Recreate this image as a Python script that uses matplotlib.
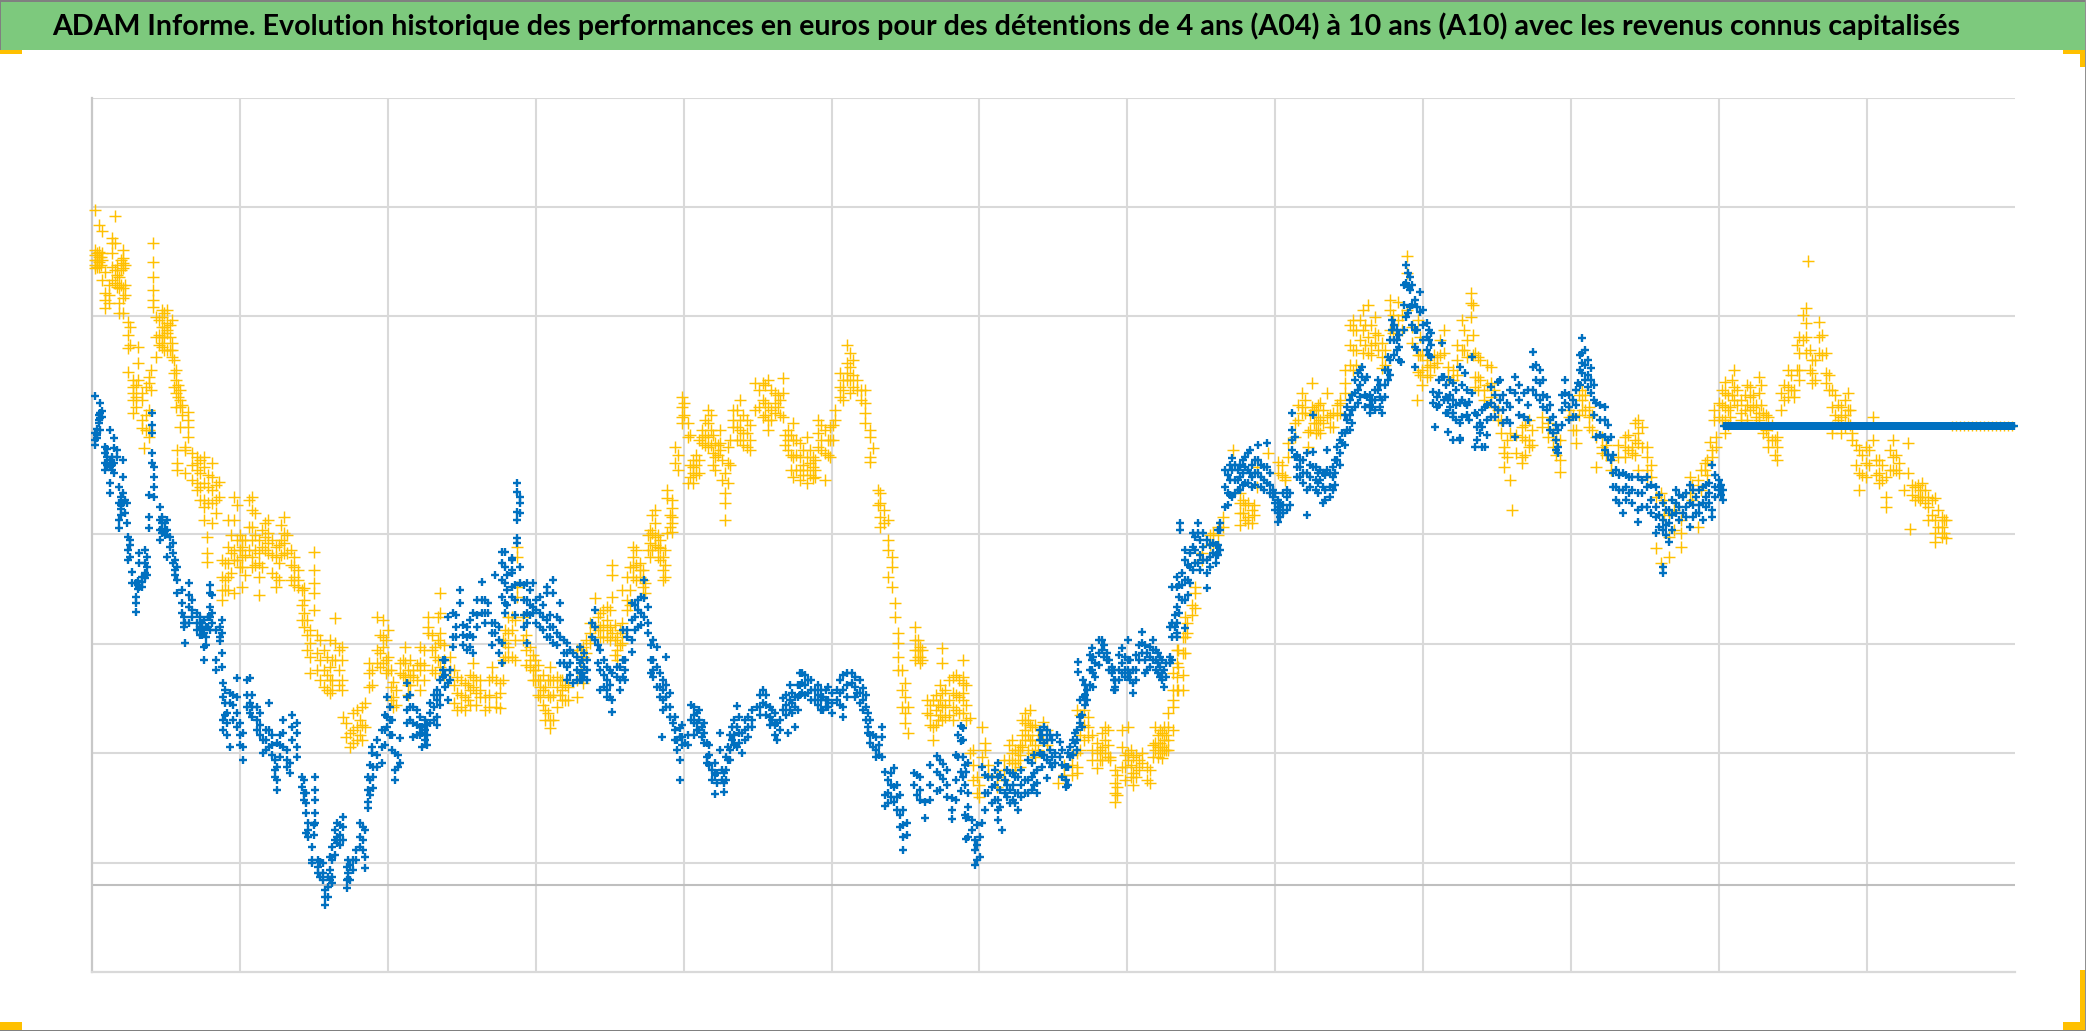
import matplotlib
matplotlib.use("Agg")
import matplotlib.pyplot as plt
from matplotlib.patches import Rectangle

TITLE = "ADAM Informe. Evolution historique des performances en euros pour des détentions de 4 ans (A04) à 10 ans (A10) avec les revenus connus capitalisés"

# Each entry: (position along the time axis, [values read at that position])
a04_part1 = [
(3,[675,635,630,625,620,617]),(7,[660,633,628,623,618]),(10,[654,632,625,605]),(13,[613,592,585,577]),
(20,[647,642,632,618,605]),(23,[669,642,615,602]),(27,[608,597,582,572]),(31,[635,627,622,617,597,587,572]),
(36,[563,550,537,513]),(41,[505,498,492,485,472]),(46,[538,522,505]),(50,[492,485,465,457]),(52,[437]),
(57,[508,502,475,455,448]),(61,[642,623,608,595,585,578]),(64,[568,548,528]),(70,[575,568,558,548,542,538]),
(75,[575,562,555,552,535]),(80,[565,542,535,528]),(84,[515,505,492,478]),(85,[435,422,415]),(88,[495,485,478,458]),
(93,[438,435,412]),(96,[473,465,458,448]),(105,[428,422,415,402,395]),(112,[428,418,402,385,378,365]),
(115,[348,332,323]),(120,[422,408,395,382,362]),(127,[403,388]),(130,[325,308,295,285]),(136,[365,338,322,308,295]),
(142,[388,365,335,325,292]),(150,[345,338,328,318,298]),(160,[388,375,358,345,328,318]),(167,[345,332,322,308,290]),
(176,[365,352,342,332]),(184,[338,328,308,298]),(192,[368,352,342,332]),(202,[328,318,308,300]),
(212,[297,285,272,258]),(218,[255,242,228,212]),(222,[333,315,302,292,275]),(228,[245,225,205]),
(238,[245,218,205,192]),(243,[267,242,225]),(250,[238,225,205,195]),
]
a04_part2 = [
(251,[168]),(258,[152,138]),(265,[175,158,145]),(273,[182,158]),(277,[222,212,198]),(285,[268,235,222]),
(291,[265,248,238,222]),(296,[255,228,215]),(301,[203,188,178]),(308,[222,212]),(313,[238,222,208]),(321,[215,208]),
(328,[238,222,215,195]),(336,[268,258,252]),(343,[238,228,212]),(348,[292,272,252,242,218]),(358,[228,215]),
(365,[208,192,175]),(373,[202,188,175]),(381,[222,208,198]),(388,[205,195,188]),(393,[188,175]),(400,[218,208]),
(408,[202,192,177]),(413,[255,242,228]),(416,[268,252,238,228]),(420,[268,255,228]),(425,[338,328,298,288]),
(431,[268,245]),(438,[238,225,218]),(443,[225,215,205]),(448,[205,198,188]),(453,[198,175,165]),
(458,[218,205,188,165,157]),(465,[208,198,178]),(470,[205,195,185]),(476,[198,185]),(485,[235,188,205]),
(491,[238,228,202]),(498,[262,252,242]),(503,[287,258]),(508,[272,258,248]),(515,[278,265,255,248]),
(520,[320,310,288,252]),(525,[248,235,225]),(530,[295,262,252,242]),(535,[308,285,275]),(541,[338,328,318,308]),
(548,[322,315,308]),(553,[302,292]),(558,[355,342,328]),(563,[375,362,348,340]),(568,[345,337,325]),
(571,[328,315,305]),(575,[395,387,352]),(580,[385,377,368,362,353]),
]
a04_part3 = [
(583,[438,422]),(590,[488,478,468,462]),(596,[462,448,402]),(601,[425,418,412,402]),(610,[455,448,442]),
(616,[475,462,448,438]),(623,[442,428,415]),(628,[455,442,435]),(633,[412,392,382,365]),(636,[438,422,402]),
(641,[475,465,458]),(648,[485,465,455,445]),(655,[465,452,438]),(663,[502,475]),(671,[502,485,468]),
(676,[505,478,465,455]),(683,[492,482,472]),(691,[507,492,468]),(696,[455,445,435]),(701,[462,445,428,408]),
(708,[442,428,415,405]),(715,[448,428,415,402]),(721,[428,418,407]),(726,[465,452,438]),(733,[455,432,405]),
(738,[458,445,428]),(743,[475,465]),(748,[512,498,488]),(755,[540,522,512,505]),(758,[532,518,505,492]),
(765,[505,495]),(773,[495,482,472,462]),(778,[455,448,428,423]),(781,[437]),(788,[392,382,368,358]),
(796,[365,345,335,308]),(800,[328,318,298]),(803,[282,268]),(806,[252,242,228,215]),(813,[202,188,172,162]),
(816,[178,152]),(823,[258,245,235,225]),(828,[238,228,222]),(835,[185,172]),(841,[185,158,145]),
(850,[237,222,192,178,165]),(861,[208,192,178,165]),(871,[225,208,192,185,202,172]),
(878,[167,132]),(885,[108,92]),(890,[158,128]),(893,[142,135]),(905,[108,98]),(920,[145,132,122]),(926,[135,125]),
(933,[172,162,155,145]),(940,[158,145,132]),(951,[163,145]),(966,[102]),(985,[175,132,118,112]),(996,[168,158,148]),
(1005,[142,132,117]),(1013,[158,145,132]),(1018,[128,125]),(1023,[115,102,92,83]),(1030,[155,138,118]),
(1036,[158,132,125]),(1041,[128,112,100]),(1050,[132,122]),(1055,[118,105]),(1063,[158,142,135]),(1070,[152,138,127]),
(1076,[172,158,145,135]),(1081,[195,178,185,212,155]),
]
a04_part4 = [
(1085,[235,222,208,195]),(1086,[235,218,195]),(1091,[248,232,210,195]),(1093,[268,248,232]),(1095,[262,252]),
(1103,[298,292,277]),(1110,[332,325]),(1121,[352,342]),(1131,[368,358]),(1141,[435]),(1148,[392,382,372,360]),
(1156,[382,368,362]),(1165,[418,398]),(1176,[432]),(1186,[423,412]),(1193,[408,405]),(1196,[442,428]),(1203,[462,448]),
(1210,[492,478,472]),(1216,[453,438]),(1220,[502,478]),(1228,[482,465,452]),(1235,[492,468]),(1241,[472,458]),
(1248,[485,482,472]),(1253,[515,502,492]),(1261,[565,555,535,515]),(1271,[575,555,532]),(1276,[580,548,532]),
(1283,[568,552,542]),(1290,[542,528,517]),(1298,[585,575,555]),(1306,[583,565]),(1315,[629,612,575]),(1320,[558,542]),
(1325,[485]),(1326,[565,530,513]),(1335,[525,518,508]),(1345,[528,522]),(1352,[555,532]),(1356,[518,508]),(1361,[515,505]),
(1370,[565,535]),(1375,[545,528]),(1379,[592,582,568]),(1383,[532,508,498]),(1386,[528,508,495]),(1392,[495,485]),
(1399,[518,502,488]),(1406,[475,465]),(1412,[438,432,418]),(1418,[452,405]),(1420,[375]),(1430,[458,448,428,422]),
(1437,[465,445,438]),(1450,[468,458]),(1461,[452,438]),(1468,[445,425,413]),(1477,[475,468]),(1484,[455,442]),
(1490,[495,485,475]),(1497,[478,468,458]),(1504,[448,418]),(1510,[448,438,432]),(1519,[425,415]),(1533,[448,438,428]),
(1540,[438,432]),(1546,[465,452,442,415]),(1555,[438,428,415,408]),(1564,[388,337]),(1569,[392,322]),(1577,[372,348,328]),
(1589,[365,352,338]),(1598,[408,392]),(1606,[405,358]),(1613,[422,415]),(1618,[443]),(1620,[435,428]),(1624,[448,438]),
]
a04_part5 = [
(1622,[475,465]),(1627,[482,468]),(1633,[503,492,478,465,452]),(1638,[478,468]),(1642,[515,498,485]),(1649,[485,472,465]),
(1658,[498,488,475]),(1667,[508,492,472,465]),(1671,[472,452]),(1676,[468,448,438]),(1685,[448,438,425]),(1689,[492,475]),
(1696,[515,498,488]),(1702,[495,488]),(1707,[548,532,515,505]),(1714,[577,562,548,532]),(1716,[624]),(1720,[525,512,502]),
(1727,[563,548,532]),(1734,[532,512,502]),(1740,[495,478,458,452]),(1749,[478,468,452]),(1756,[492,475,462]),(1760,[452,445]),
(1767,[435,412,395]),(1774,[438,422,408]),(1781,[468,445]),(1787,[425,412,402]),(1794,[408,388,378]),(1801,[445,428,415]),
(1807,[422,412]),(1812,[395]),(1816,[442,412]),(1818,[356]),(1823,[398,385]),(1830,[402,388]),(1836,[388,378,365]),
(1843,[387,365,352,343]),(1850,[368,358,348]),(1854,[365,347]),
]
a04_part6 = [
(5,[632,625,618]),(9,[628,620]),(17,[600,590,582]),(25,[620,610,598]),(29,[625,615,600]),(33,[620,600,590]),(38,[558,540]),
(44,[500,488,478]),(54,[498,470,455]),(59,[515,495]),(67,[565,550,540]),(72,[572,558,548,535]),(78,[560,548,535]),
(82,[525,512,498]),(86,[500,488]),(90,[480,470]),(100,[432,420,405]),(108,[425,412,398,385]),(116,[410,398,382]),
(124,[400,385,372]),(133,[322,305,295]),(139,[350,332,312]),(145,[380,345,325]),(148,[350,335,318]),(153,[345,330,310]),
(157,[385,358,335]),(163,[372,350,335,320]),(170,[355,338,318]),(173,[362,348,335]),(180,[345,330,312]),(187,[340,322,305]),
(189,[360,345,330]),(195,[350,332]),(199,[335,320,305]),(206,[315,305,298]),(210,[295,280,265]),(215,[265,250,235]),
(225,[250,232,215]),(232,[235,215,198]),(235,[228,210,195]),(240,[225,205,195]),(247,[235,215,200]),
(254,[162,148]),(261,[172,155,142]),(268,[165,150]),(270,[178,160,145]),(280,[215,200]),(288,[250,232,218]),(294,[245,225,212]),
(299,[215,198,185]),(304,[195,180]),(311,[225,210]),(316,[215,200,190]),(318,[225,210,200]),(325,[220,205]),(332,[235,220,205]),
(340,[250,235,215]),(346,[268,245,225]),(352,[240,225,210]),(362,[215,200,182]),(369,[205,190,178]),(376,[200,185]),
(378,[210,195,180]),(384,[205,192,180]),(397,[205,190,178]),(404,[205,188,178]),(411,[245,225,205]),(423,[265,245,225]),
(434,[250,235,220]),(441,[230,215,205]),(446,[220,205,190]),(451,[210,195,180]),(456,[205,190,172]),(461,[205,190,165]),
(468,[205,190]),(473,[200,185]),(489,[235,215]),(494,[245,232]),(506,[268,255]),(511,[275,260,248]),(518,[275,258,245]),
(523,[260,245,230]),(528,[255,240]),(538,[318,295,280]),(544,[335,320,305]),(551,[315,305,298]),(556,[350,335]),
(560,[370,352,335]),(566,[350,338,328]),(573,[335,320,308]),(578,[370,358]),
]
a04_part7 = [
(586,[430,415]),(592,[482,470]),(598,[450,420,408]),(604,[430,420,410]),(607,[445,425,412]),(613,[465,450,440]),(619,[470,455,440]),
(621,[450,432,420]),(626,[440,430]),(630,[425,405]),(638,[445,420]),(645,[475,458,445]),(651,[470,452,440]),(658,[460,445,435]),
(667,[495,478]),(673,[500,482,470]),(679,[495,475,465]),(686,[490,478]),(688,[485,470]),(693,[450,440]),(699,[450,430,415]),
(704,[445,430,415]),(711,[435,420,410]),(718,[435,422,410]),(723,[425,415,408]),(729,[460,445,435]),(736,[445,430]),(741,[460,445]),
(751,[505,495,485]),(761,[525,510,498]),(769,[495,485]),(786,[395,380]),(792,[375,362]),(810,[215,195,178]),(826,[245,235,228]),
(830,[235,225]),(838,[180,170,160]),(844,[190,175,160]),(846,[180,165]),(848,[200,185,170]),(853,[195,180,168]),(857,[205,185,170]),
(864,[210,190,175]),(867,[205,188,172]),(874,[200,180,165]),(881,[135,120,105]),(887,[100,88]),(896,[120,110]),(912,[125,115,105]),
(917,[140,125]),(923,[135,122,115]),(928,[140,130,118]),(930,[165,150,138]),(936,[165,150,135]),(938,[175,160,145]),(943,[160,140,128]),
(946,[150,135]),(955,[155,140]),(972,[120,110]),(980,[130,120,110]),(988,[170,150,135]),(992,[175,160,145]),(1000,[150,135,125]),
(1008,[135,125]),(1010,[152,138,125]),(1016,[155,140,128]),(1025,[110,98,90]),(1033,[130,118,105]),(1039,[135,120,108]),
(1044,[130,118,108]),(1047,[125,115]),(1058,[115,102]),(1061,[140,128]),(1066,[150,138,128]),(1068,[155,142,132]),(1072,[158,145,135]),
(1074,[150,135]),
]
a04_part8 = [
(1100,[280,270]),(1118,[350,340]),(1126,[358,350]),(1151,[385,372]),(1153,[380,365]),(1160,[375,362]),(1162,[380,370]),(1190,[420,410]),
(1206,[480,465]),(1213,[485,472]),(1218,[470,455]),(1222,[475,462]),(1224,[475,462,452]),(1226,[480,468,455]),(1231,[475,462]),
(1238,[470,458]),(1245,[480,470]),(1258,[560,540,520]),(1264,[555,535,520]),(1268,[565,545]),(1273,[560,540]),(1279,[560,540,530]),
(1286,[550,535]),(1293,[535,520]),(1301,[570,552]),(1310,[570,555]),(1328,[548,530,510]),(1330,[530,515,500]),(1338,[520,510]),
(1342,[530,518]),(1348,[545,530]),(1365,[540,525,510]),(1372,[555,535]),(1381,[580,550,530]),(1388,[525,505]),(1395,[520,500]),
(1402,[495,478]),(1409,[465,452]),(1415,[445,428]),(1424,[450,432]),(1433,[460,445,430]),(1440,[455,440]),(1456,[462,448]),
(1464,[445,430]),(1481,[470,455]),(1487,[490,470]),(1493,[490,475]),(1500,[470,455]),(1514,[440,430]),(1526,[440,428]),(1536,[450,435]),
(1543,[462,445,430]),(1550,[458,438]),(1559,[420,408]),(1572,[385,370]),(1582,[375,355]),(1600,[400,385]),(1609,[415,395]),(1615,[425,410]),
(1630,[495,480,465]),(1636,[490,475,460]),(1640,[505,490]),(1645,[495,480]),(1653,[490,475]),(1655,[500,480,465]),(1661,[490,478]),
(1664,[480,468]),(1669,[500,480]),(1674,[470,455]),(1680,[460,445]),(1683,[445,430]),(1692,[500,485]),(1699,[510,495]),(1705,[540,515]),
(1711,[570,545]),(1718,[535,515]),(1723,[525,505]),(1730,[550,530]),(1737,[510,495]),(1743,[490,470]),(1746,[480,465]),(1753,[485,470,458]),
(1758,[475,460]),(1764,[440,420]),(1770,[430,410]),(1777,[435,420]),(1784,[425,410]),(1790,[420,405]),(1798,[435,415]),(1804,[430,415]),
(1820,[400,390]),(1826,[400,388]),(1828,[395,385]),(1833,[395,382]),(1840,[385,370]),(1846,[375,358]),(1852,[365,352]),
]
a10_part1 = [
(3,[489,452,445,440]),(8,[482,472,467,455]),(13,[438,432,422,415]),(18,[455,425,418,402,392]),(22,[447,437,422,412]),
(27,[398,382,365,357]),(31,[425,408,392,382]),(35,[382,362]),(36,[348,335,325]),(40,[313,302]),(44,[302,288,282,273]),
(47,[332,322,298]),(53,[335,322,312,307]),(57,[390,368,357]),(60,[472,460,452,432,422]),(62,[418,408,398,388]),
(68,[378,365,355,345]),(75,[365,355,328]),(81,[342,332,322]),(85,[318,305,292]),(90,[295,282,272]),(93,[262,242]),
(97,[302,290,278,262]),(105,[272,262,255]),(112,[265,252,238,225]),(118,[300,292,278,268,255]),(124,[255,225,215]),
(130,[265,252,232,218]),(131,[202,188,165,155]),(138,[192,182,138]),(145,[207,188,172,158]),(151,[152,138,125]),
(158,[207,182,172]),(165,[178,165,155]),(171,[145,132]),(177,[182,155,138]),(185,[142,118,105,95]),(191,[165,152,138]),
(198,[122,112]),(205,[162,152,138,128]),(210,[108,98]),(214,[92,82,72,52]),(220,[38,25,22]),(223,[108,95,85,72,62]),
(228,[23,8]),(233,[-5,-12,-20]),(240,[38,25,8,2]),(245,[62,48,42]),(251,[68,58,45]),(255,[18,5,-3]),(261,[25,15]),
(268,[62,48,38]),(273,[55,28,17]),(276,[108,95,83,77]),(280,[138,132]),(281,[118,108,97]),
]
a10_part2 = [
(290,[155,138,122]),(295,[188,168,158]),(303,[132,115,105]),(308,[147,122]),(315,[202,188,175,162]),(321,[178,162,148]),
(330,[158,152,138]),(338,[182,172,162]),(345,[195,185,168,160]),(351,[225,215,208]),(356,[268,202,185]),(361,[272,248,238]),
(368,[295,282]),(375,[258,248,235]),(381,[272,248,232]),(390,[303,285,272]),(396,[282,272]),(403,[310,262,252]),
(410,[333,322,305,288,242,222]),(413,[333,318,302,282,272]),(420,[325,315,298,288,327,312]),(425,[402,393,373,365,347,342]),
(428,[388,382,372,318,302]),(435,[302,285,272,262,242]),(441,[302,278,272]),(448,[288,272,258]),(455,[298,292,265,248]),
(461,[305,292,258,242]),(468,[282,265,248,222]),(475,[242,232,218,205]),(481,[232,202]),(488,[238,222,212,205]),
(495,[225,215,205]),(503,[275,258,245]),(508,[235,215,195]),(515,[218,205,195,188]),(520,[212,185,173]),(525,[218,208]),
(531,[255,225,208]),(535,[255,248]),(540,[282,265,245,233]),(546,[285,275,258]),(552,[305,287,268]),(556,[278,262,252]),
(561,[245,225,215,208]),(565,[238,218,198]),(570,[148]),(571,[205,195,185,175]),(574,[228]),(578,[192,178,168]),(581,[162]),
(585,[145,135]),(588,[157,148,125,105]),(593,[142]),(599,[180,165]),(605,[172,162,155]),(610,[158,148]),(615,[142,128,122]),
(620,[115,105]),(623,[122,110,91]),(628,[152,135]),(632,[112,102,93]),(636,[138,125]),(640,[158,145]),(645,[179,158,138]),
(650,[152,132]),(656,[168,158,148]),(665,[178]),(671,[195,182]),(680,[175,165]),(685,[162,145]),(691,[187,175]),
(696,[152]),(698,[200,185,175]),(703,[188,178,158]),(710,[212,202,192]),(716,[205,192]),(723,[195,185]),(731,[188,175]),
(736,[198,185,178]),(745,[195,185]),(751,[210,195,178,168]),(760,[212,202]),(765,[192]),(771,[197,185,175]),(776,[172,158,152]),
(781,[150,138]),(790,[158,148,128]),
]
a10_part3 = [
(793,[113,90,79]),(802,[117,98,83]),(811,[75,60,48,35]),(825,[110,90]),(833,[83,67]),(845,[129,113,94]),(851,[121,106]),
(860,[87,75,66]),(869,[159,144,113,94]),(871,[157,145,128,108]),(874,[113,67,46]),(876,[122,92,78,68,48]),(880,[65,55]),
(883,[45,35,20]),(888,[48,28]),(890,[118,62]),(893,[110,92,75]),(900,[108,98,82]),(906,[122,108,85,75,65]),(910,[55]),
(913,[105,92]),(918,[112,95,82]),(926,[108,92,75]),(933,[105,92]),(940,[122,108,95]),(945,[115,102,92]),(948,[155,145,132]),
(955,[155,145,125,107]),(963,[132,122]),(965,[150]),(968,[143,128]),(974,[118,105,98]),(978,[138,128]),(983,[152,142]),
(986,[223,213]),(988,[168,162,185]),(991,[205,188]),(995,[195,185]),(1000,[237,225,215]),(1003,[222,208]),(1010,[245,235]),
(1015,[232,225]),(1020,[218,212]),(1023,[205,198,195]),(1030,[237,222,212]),(1036,[245,225,215,208]),(1041,[215,202,192]),
(1050,[253,242,232]),(1055,[232,215]),(1061,[245,235,225]),(1068,[228,218,208]),(1072,[215,198]),(1078,[258,228,222]),
(1080,[298,262,248,225]),(1085,[262,252,248,308,298,278]),(1088,[362,355]),(1093,[335,325,305,285,257]),(1101,[352,338,315]),
(1106,[362,352,322]),(1115,[345,325,312,297]),(1121,[342,332]),(1128,[362,355,335]),(1133,[415,398,378]),(1140,[427,415,388]),
(1146,[415,405,395]),(1153,[428,418,402]),(1158,[435,412]),(1166,[440,425,412]),(1175,[442,418,402]),(1181,[395,388]),
(1186,[385,378,372,363]),(1195,[395,388,375]),(1200,[472,455,445,435]),(1203,[448,428]),(1208,[425,418,408]),(1215,[432,412,395,370]),
(1221,[470,433,418]),(1228,[415,405]),(1231,[412,398,382]),(1235,[435,415]),(1241,[418,408,395]),(1245,[438,425]),(1250,[452,442]),
]
a10_part4 = [
(1255,[478,465,455]),(1263,[505,492,478]),(1270,[518,508]),(1275,[508,488]),(1280,[485,478]),(1286,[505,495]),(1290,[485,472]),
(1296,[528,515,505]),(1300,[565,555]),(1305,[555,545,535]),(1309,[523]),(1314,[620,602,568]),(1318,[608,595,578]),
(1323,[585,555,538,518]),(1328,[593,573]),(1335,[562,548,535]),(1341,[493,482]),(1343,[458]),(1345,[488,478]),(1350,[542,508]),
(1352,[508,485]),(1356,[485,453,472]),(1361,[502,472,445,485,468]),(1368,[518,482,445,447,462]),(1373,[512,482]),(1377,[483,465]),
(1380,[528,492]),(1383,[472,438]),(1388,[462,452]),(1390,[475,458,438]),(1393,[478,438]),(1399,[482,468,498]),(1406,[503,475]),
(1408,[505,485]),(1415,[482,465]),(1423,[508,492,448]),(1432,[492,468]),(1441,[533,518,495]),(1448,[515,502,485]),(1455,[488,475]),
(1461,[468,452]),(1466,[455,438,432]),(1473,[505,492,482]),(1481,[485,468]),(1486,[502]),(1490,[547,532,522,512]),(1499,[517,505,492]),
(1504,[482,448]),(1513,[478,465,448,435]),(1519,[448,425]),(1524,[415,398,385]),(1531,[412,395,372]),(1537,[408,392]),
(1546,[408,392,375,363]),(1555,[408,398,378]),(1564,[398,378,368,352]),(1571,[382,365,355,318,312]),(1577,[375,362,343]),
(1584,[395,382,372]),(1591,[388,372]),(1598,[400,382,358]),(1604,[388,372]),(1611,[398,382,365]),(1620,[420,375,368]),
(1627,[405,395]),(1631,[395,385]),
]
a10_part5 = [
(5,[456,450,447]),(7,[470,465,462]),(10,[474,468]),(15,[436,428,420]),(20,[428,420,415]),(25,[435,428]),(29,[388,380,376,370]),
(33,[385,372]),(38,[345,340,328]),(46,[304,296,300]),(50,[308,303,298]),(55,[328,318,310]),(70,[368,362,356,352]),(73,[362,354,350]),
(78,[348,338]),(83,[325,315,310]),(92,[268,262,258]),(100,[285,275,268]),(108,[268,262,258,250]),(110,[262,256,250]),(114,[258,248,240]),
(116,[268,258]),(120,[290,272,262]),(128,[258,248,244]),(133,[195,182,170]),(135,[172,162,150]),(141,[190,180,165]),(148,[162,150,140]),
(155,[205,190,178]),(160,[190,178,168]),(168,[172,160,150]),(174,[155,145,135]),(180,[150,140,130]),(183,[125,115,108]),(188,[150,140,128]),
(195,[135,125,118]),(200,[170,158,145]),(212,[105,92,85]),(216,[62,55,48]),(222,[60,50]),(226,[25,18,12]),(231,[22,12,5]),(236,[8,-2,-12]),
(238,[28,15,5]),(243,[55,45,30]),(248,[60,50,40]),(256,[25,12,6]),(258,[20,5]),(264,[35,25]),(271,[58,45,35]),(278,[120,105,90]),
(285,[145,130,118]),(293,[170,155,140]),(298,[178,165,150]),(300,[165,150,135]),(306,[130,118]),(318,[190,178,165]),(325,[175,160,150]),
(328,[168,158,150]),(333,[165,155,145]),(335,[160,150,140]),(342,[190,178,165]),(348,[205,190,180]),(353,[225,210,198]),(358,[215,205]),
(364,[270,258,248]),(371,[260,250,240]),(378,[265,250,238]),(385,[285,270,258]),(393,[285,272,262]),(400,[262,252,240]),(407,[258,245,232]),
(415,[310,295,280]),(423,[300,285,270]),(432,[300,285,270,258]),(438,[295,280,270]),(444,[285,275,262]),(451,[280,268,255]),(458,[270,258,248]),
(465,[268,252,240]),(472,[245,232,222]),(478,[235,222,210]),(485,[228,215,205]),(490,[225,212,205]),(492,[232,218,208]),(500,[262,248]),
(506,[240,222]),(512,[225,210,198]),(518,[215,200,188]),(528,[218,205,195]),(533,[225,215,205]),(543,[280,268,255]),(549,[288,272,260]),
(559,[240,225,212]),(568,[212,198,188]),(574,[200,188,178]),(583,[168,155,145]),(590,[160,148,140]),(596,[150,140]),
]
a10_part6 = [
(602,[178,170,162,150]),(607,[175,165,155]),(612,[162,152,142]),(617,[140,130,120]),(625,[112,102]),(630,[115,105]),(634,[128,115,105]),
(638,[150,135,125]),(642,[165,150,140]),(647,[168,152,142]),(653,[165,155,145]),(660,[175,165,158]),(668,[190,178,170]),(674,[190,180,170]),
(678,[178,168,160]),(683,[172,160,150]),(688,[165,155]),(694,[190,180,170]),(700,[192,182,172]),(706,[200,188,175]),(708,[212,200,190]),
(713,[210,200,190]),(719,[205,195,185]),(726,[200,190,180]),(729,[195,185,175]),(734,[195,185,178]),(740,[192,182,172]),(748,[205,192,180]),
(755,[212,200,188]),(763,[208,198,188]),(768,[205,192,182]),(774,[190,178,165]),(778,[165,150,142]),(784,[148,135,128]),(787,[140,130]),
(796,[105,92,82]),(799,[112,100,88]),(805,[100,88,75]),(808,[90,70,58]),(815,[62,50]),(822,[112,100]),(828,[108,95,85]),(838,[120,100,85]),
(848,[125,110,95]),(855,[115,100,88]),(864,[130,105,85]),(866,[150,128]),(873,[120,100,70]),(885,[60,40,25]),(896,[108,92]),(903,[115,100,85]),
(908,[110,95,78]),(915,[115,100,88]),(921,[112,100,85]),(923,[108,92,82]),(929,[115,100,88]),(936,[125,105,92]),(942,[130,112,100]),
(950,[150,130,118]),(952,[158,142,130]),(958,[150,135,122]),(960,[145,128,118]),(970,[135,120,108]),(976,[132,118,100]),(981,[145,130]),
(985,[155,145,135]),(990,[170,158]),(993,[200,190,180]),(998,[230,215,200]),(1001,[228,212,198]),(1007,[245,232,220]),(1012,[240,228]),
(1017,[225,215]),(1022,[215,205,195]),(1027,[230,215,205]),(1033,[228,215,208]),(1038,[225,212,205]),(1044,[230,215,205]),(1047,[240,225]),
(1053,[240,225,212]),(1058,[238,228,218]),(1064,[235,225,215]),(1066,[232,222,212]),(1070,[225,212,205]),(1074,[222,208]),
]
a10_part7 = [
(1083,[270,258]),(1087,[300,288,272]),(1090,[312,300,285]),(1096,[320,305,290]),(1098,[332,318,302]),(1103,[348,335,322]),(1108,[345,330,315]),
(1111,[352,338,325]),(1118,[340,328,318]),(1124,[340,330,322]),(1126,[355,340,330]),(1136,[410,392,380]),(1138,[420,405,390]),(1143,[420,405,392]),
(1148,[420,408,395]),(1151,[425,412,400]),(1156,[432,415,402]),(1160,[420,408,398]),(1163,[425,412,400]),(1169,[420,408,398]),(1172,[418,405,395]),
(1178,[412,400,392]),(1183,[392,382,375]),(1188,[382,375,368]),(1191,[392,380,372]),(1198,[392,380]),(1205,[430,418,408]),(1211,[425,412,402]),
(1218,[420,408,398]),(1224,[418,405,395]),(1226,[412,402,392]),(1233,[410,395,385]),(1238,[412,398,388]),(1243,[425,412,400]),(1248,[445,432,420]),
(1253,[470,452,440]),(1258,[485,470,455]),(1260,[490,475,462]),(1266,[512,495,482]),(1268,[515,500,488]),(1273,[505,490,478]),(1278,[490,480,472]),
(1283,[495,485,475]),(1288,[500,488,478]),(1293,[515,500,488]),(1298,[545,525,510]),(1302,[560,545,530]),(1307,[550,538,525]),(1312,[600,580,555]),
(1316,[612,598,572]),(1320,[600,580,560]),(1325,[578,555,535]),(1331,[575,560,545]),(1337,[555,545,530]),(1339,[552,540,528]),(1347,[505,492,480]),
(1354,[500,488,472]),(1358,[505,490,478]),(1364,[495,480,465]),(1370,[500,485,468]),(1375,[495,480,470]),(1385,[470,458,445]),(1395,[480,465,450]),
(1403,[490,478,468]),(1411,[490,475,462]),(1418,[495,478,462]),(1427,[500,485,470]),(1436,[495,480,465]),(1444,[520,505,490]),(1451,[505,490,478]),
(1458,[480,465,455]),(1464,[460,445,435]),(1470,[490,475,460]),(1477,[490,478,465]),(1484,[495,480,468]),(1488,[530,515,500]),(1493,[535,520,505]),
(1496,[525,510,498]),(1502,[500,485,470]),(1508,[480,465,450]),(1516,[460,445,430]),(1521,[430,412,398]),(1527,[410,395,382]),(1534,[410,398,385]),
(1540,[408,395,382]),(1550,[405,392,378]),(1559,[400,385,372]),(1567,[390,370,358]),(1574,[375,360,350]),(1580,[385,370,355]),(1587,[390,378,365]),
(1594,[392,378,368]),(1601,[395,380,368]),(1607,[395,380,372]),(1614,[400,388,378]),(1617,[402,392,382]),(1623,[410,398,388]),(1629,[400,390]),
]
# After the last known price both series stay at a single level
flat_level = 459
a10_flat_days = list(range(1632, 1924, 2))
a04_flat_days = list(range(1860, 1924, 4))

a04_parts = [a04_part1, a04_part2, a04_part3, a04_part4, a04_part5, a04_part6, a04_part7, a04_part8]
a10_parts = [a10_part1, a10_part2, a10_part3, a10_part4, a10_part5, a10_part6, a10_part7]

def flatten(parts):
    xs, ys = [], []
    for part in parts:
        for x, vals in part:
            for v in vals:
                xs.append(x); ys.append(v)
    return xs, ys

W, H = 2086, 1031
fig = plt.figure(figsize=(W/100, H/100), dpi=100, facecolor="white")
ax = fig.add_axes([92/W, 1-972/H, (2015-92)/W, (972-98)/H])

ax.set_xlim(0, 1923)
ax.set_ylim(-87, 787)
ax.set_xticks([147.9*k for k in range(1, 13)])
ax.set_yticks([22, 132, 241, 351, 569, 678, 787])
ax.grid(True, color="#D9D9D9", lw=1.5)
ax.set_axisbelow(True)
ax.tick_params(length=0, labelbottom=False, labelleft=False)
for s in ("top", "right"):
    ax.spines[s].set_visible(False)
ax.spines["left"].set_color("#C8C8C8"); ax.spines["left"].set_linewidth(1.6)
ax.spines["bottom"].set_color("#D9D9D9"); ax.spines["bottom"].set_linewidth(1.6)
ax.axhline(0, color="#BFBFBF", lw=1.5, zorder=1)

ox, oy = flatten(a04_parts)
bx, by = flatten(a10_parts)
ax.plot(a04_flat_days, [flat_level]*len(a04_flat_days), ls="none", marker="+", ms=7, mew=1.0, color="#FFC000", clip_on=False)
ax.plot(ox, oy, ls="none", marker="+", ms=8, mew=1.05, color="#FFC000", clip_on=False, zorder=3)
ax.plot(bx, by, ls="none", marker="+", ms=6.3, mew=1.7, color="#0070C0", clip_on=False, zorder=4)
ax.plot(a10_flat_days, [flat_level]*len(a10_flat_days), ls="none", marker="+", ms=6.3, mew=1.7, color="#0070C0", clip_on=False, zorder=4)

def frect(x0, y0, x1, y1, **kw):
    fig.add_artist(Rectangle((x0/W, 1-y1/H), (x1-x0)/W, (y1-y0)/H, transform=fig.transFigure, lw=0, **kw))

frect(0, 0, W, 50, color="#7DC97D")
for box in [(0,50,22,54),(2063,50,2085,54),(2080,50,2085,67),(2080,970,2085,1030),(2063,1022,2085,1030),(0,1022,22,1030)]:
    frect(*box, color="#FFC000")
frect(0, 0, W, 1.5, color="#808080")
frect(0, 1029.5, W, H, color="#808080")
frect(2084.5, 0, W, H, color="#909090")
frect(0, 0, 1, 50, color="#808080")

fig.text(1006/W, 1-26/H, TITLE, ha="center", va="center", fontsize=20.6,
         fontweight="bold", family=["Lato", "Liberation Sans", "DejaVu Sans"], color="black")

fig.savefig("out.png", dpi=100)
